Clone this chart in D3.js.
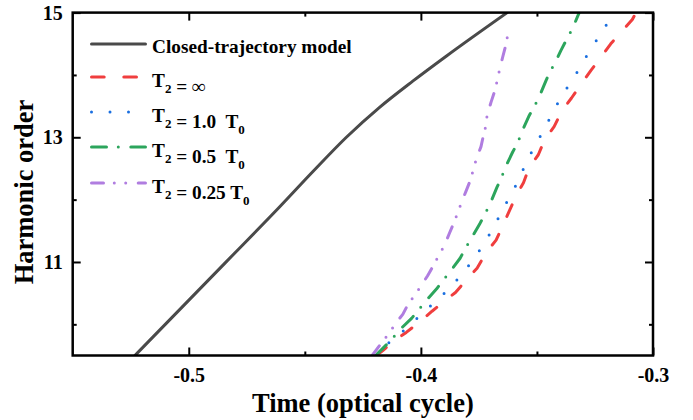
<!DOCTYPE html>
<html>
<head>
<meta charset="utf-8">
<script src="https://cdn.jsdelivr.net/npm/d3@7"></script>
<style>
  html, body { margin: 0; padding: 0; background: #fff; }
  svg { display: block; }
  text { font-family: "Liberation Serif", "Times New Roman", serif; font-weight: bold; fill: #000; }
</style>
</head>
<body>
<svg id="chart" width="693" height="420"></svg>
<script>
// ---- data (time in optical cycles, harmonic order) ----
const closedTime  = [-0.5232, -0.4842, -0.4608, -0.4465, -0.4321, -0.4178, -0.4035, -0.3891, -0.3628];
const closedOrder = [9.5, 10.99, 11.885, 12.45, 13.00, 13.48, 13.90, 14.30, 15];

const infTime  = [-0.4192, -0.4164, -0.4114, -0.4063, -0.3999, -0.3952, -0.3896, -0.3851, -0.3805, -0.3758, -0.3719, -0.3676, -0.3638, -0.3590, -0.3558, -0.3533, -0.3494, -0.3466, -0.3426, -0.3393, -0.3351, -0.3306, -0.3268, -0.3225, -0.3182, -0.3134, -0.3089, -0.3073];
const infOrder = [9.5, 9.58, 9.74, 9.87, 10.06, 10.21, 10.38, 10.51, 10.71, 10.90, 11.15, 11.35, 11.66, 12.06, 12.27, 12.52, 12.72, 12.97, 13.17, 13.42, 13.63, 13.87, 14.07, 14.28, 14.50, 14.70, 14.89, 15];

const t10Time  = [-0.4195, -0.4186, -0.4147, -0.4092, -0.4038, -0.3985, -0.3924, -0.3863, -0.3813, -0.3770, -0.3725, -0.3688, -0.3651, -0.3616, -0.3579, -0.3550, -0.3512, -0.3476, -0.3441, -0.3404, -0.3364, -0.3321, -0.3282, -0.3246, -0.3203, -0.3172];
const t10Order = [9.5, 9.54, 9.68, 9.84, 10.02, 10.21, 10.41, 10.63, 10.85, 11.06, 11.31, 11.55, 11.81, 12.06, 12.31, 12.57, 12.84, 13.08, 13.33, 13.59, 13.83, 14.08, 14.33, 14.54, 14.79, 15];

const t05Time  = [-0.4195, -0.4192, -0.4149, -0.4121, -0.4092, -0.4039, -0.4010, -0.3980, -0.3932, -0.3906, -0.3877, -0.3831, -0.3808, -0.3781, -0.3748, -0.3724, -0.3702, -0.3672, -0.3653, -0.3636, -0.3605, -0.3582, -0.3565, -0.3533, -0.3512, -0.3490, -0.3461, -0.3444, -0.3421, -0.3397, -0.3368, -0.3347, -0.3318];
const t05Order = [9.5, 9.51, 9.67, 9.78, 9.91, 10.10, 10.23, 10.37, 10.57, 10.70, 10.83, 11.06, 11.22, 11.39, 11.60, 11.77, 11.93, 12.20, 12.35, 12.52, 12.76, 12.92, 13.09, 13.35, 13.49, 13.65, 13.91, 14.05, 14.20, 14.39, 14.60, 14.74, 15];

const t025Time  = [-0.4210, -0.4178, -0.4138, -0.4106, -0.4078, -0.4057, -0.4026, -0.3999, -0.3971, -0.3942, -0.3920, -0.3899, -0.3877, -0.3859, -0.3841, -0.3826, -0.3805, -0.3787, -0.3774, -0.3762, -0.3741, -0.3731, -0.3719, -0.3715, -0.3698, -0.3682, -0.3671, -0.3662, -0.3648, -0.3636, -0.3626];
const t025Order = [9.5, 9.66, 9.85, 10.03, 10.16, 10.31, 10.47, 10.62, 10.78, 10.97, 11.13, 11.26, 11.46, 11.62, 11.79, 11.95, 12.14, 12.31, 12.48, 12.64, 12.85, 13.02, 13.20, 13.35, 13.56, 13.74, 13.91, 14.07, 14.28, 14.45, 14.64];

const xMajorTicks = [-0.5, -0.4, -0.3];
const xMinorTicks = [-0.45, -0.35];
const yMajorTicks = [11, 13, 15];
const yMinorTicks = [10, 12, 14];

const seriesNames = ["Closed-trajectory model", "T2 = ∞", "T2 = 1.0  T0", "T2 = 0.5  T0", "T2 = 0.25 T0"];

// ---- layout ----
const svg = d3.select("#chart");
const L = 72.7, R = 653, T = 12.6, B = 355.5;
const x = d3.scaleLinear().domain([-0.55, -0.3]).range([L, R]);
const y = d3.scaleLinear().domain([9.5, 15]).range([B, T]);

const series = [
  { t: closedTime, o: closedOrder, color: "#4a4a4a", dash: null, curve: d3.curveMonotoneX },
  { t: infTime,    o: infOrder,    color: "#f03e3e", dash: "12.7 19.6", curve: d3.curveLinear },
  { t: t10Time,    o: t10Order,    color: "#1a6fe0", dash: "0 18.5", curve: d3.curveLinear },
  { t: t05Time,    o: t05Order,    color: "#2ca55c", dash: "15 11.8 0 12.5", curve: d3.curveLinear },
  { t: t025Time,   o: t025Order,   color: "#b07de0", dash: "12 10.8 0 11.4 0 12.5", curve: d3.curveLinear }
];

svg.append("defs").append("clipPath").attr("id", "clip")
  .append("rect").attr("x", L).attr("y", T).attr("width", R - L).attr("height", B - T);

const plot = svg.append("g").attr("clip-path", "url(#clip)");
series.forEach(s => {
  const pts = s.t.map((v, i) => [v, s.o[i]]);
  const line = d3.line().x(d => x(d[0])).y(d => y(d[1])).curve(s.curve);
  plot.append("path").datum(pts)
    .attr("d", line)
    .attr("fill", "none")
    .attr("stroke", s.color)
    .attr("stroke-width", 3)
    .attr("stroke-linecap", "round")
    .attr("stroke-linejoin", "round")
    .attr("stroke-dasharray", s.dash);
});

// ---- axes ----
function styleAxis(g) {
  g.select(".domain").remove();
  g.selectAll(".tick line").attr("stroke", "#000").attr("stroke-width", 2);
}
const fontTick = 20;
const fmtX = d => d.toFixed(1);
// bottom
svg.append("g").attr("transform", `translate(0,${B})`)
  .call(d3.axisBottom(x).tickValues(xMajorTicks).tickSize(-8).tickPadding(12).tickFormat(fmtX))
  .call(styleAxis)
  .call(g => g.selectAll("text").attr("font-size", fontTick).style("font-family", "Liberation Serif").style("font-weight", "bold"));
svg.append("g").attr("transform", `translate(0,${B})`)
  .call(d3.axisBottom(x).tickValues(xMinorTicks).tickSize(-4).tickFormat(""))
  .call(styleAxis);
// top
svg.append("g").attr("transform", `translate(0,${T})`)
  .call(d3.axisTop(x).tickValues(xMajorTicks).tickSize(-8).tickFormat(""))
  .call(styleAxis);
svg.append("g").attr("transform", `translate(0,${T})`)
  .call(d3.axisTop(x).tickValues(xMinorTicks).tickSize(-4).tickFormat(""))
  .call(styleAxis);
// left
svg.append("g").attr("transform", `translate(${L},0)`)
  .call(d3.axisLeft(y).tickValues(yMajorTicks).tickSize(-8).tickPadding(10).tickFormat(d3.format("d")))
  .call(styleAxis)
  .call(g => g.selectAll("text").attr("font-size", fontTick).style("font-family", "Liberation Serif").style("font-weight", "bold"));
svg.append("g").attr("transform", `translate(${L},0)`)
  .call(d3.axisLeft(y).tickValues(yMinorTicks).tickSize(-4).tickFormat(""))
  .call(styleAxis);
// right
svg.append("g").attr("transform", `translate(${R},0)`)
  .call(d3.axisRight(y).tickValues(yMajorTicks).tickSize(-8).tickFormat(""))
  .call(styleAxis);
svg.append("g").attr("transform", `translate(${R},0)`)
  .call(d3.axisRight(y).tickValues(yMinorTicks).tickSize(-4).tickFormat(""))
  .call(styleAxis);

// frame
svg.append("rect").attr("x", L).attr("y", T).attr("width", R - L).attr("height", B - T)
  .attr("fill", "none").attr("stroke", "#000").attr("stroke-width", 2.5);

// axis titles
svg.append("text").attr("x", (L + R) / 2).attr("y", 412).attr("text-anchor", "middle")
  .attr("font-size", 26.5).text("Time (optical cycle)");
svg.append("text").attr("transform", `translate(33,192) rotate(-90)`).attr("text-anchor", "middle")
  .attr("font-size", 26.5).text("Harmonic order");

// ---- legend ----
const legY = [44, 77, 112, 147, 183];
const leg = svg.append("g");
series.forEach((s, i) => {
  leg.append("line").attr("x1", 91.5).attr("x2", 145.5).attr("y1", legY[i]).attr("y2", legY[i])
    .attr("stroke", s.color).attr("stroke-width", 3).attr("stroke-linecap", "round")
    .attr("stroke-dasharray", s.dash);
  const txt = leg.append("text").attr("x", 152).attr("y", legY[i] + (i === 0 ? 9 : 10)).attr("font-size", 19.3)
    .attr("xml:space", "preserve").style("white-space", "pre");
  const name = seriesNames[i];
  if (i === 0) {
    txt.text(name);
  } else {
    const parts = name.split(/(T[0-9])/).filter(p => p.length);
    parts.forEach(p => {
      const m = p.match(/^T([0-9])$/);
      if (m) {
        txt.append("tspan").text("T");
        txt.append("tspan").attr("font-size", 13).attr("dy", 6).text(m[1]);
        txt.append("tspan").attr("dy", -6).text("");
      } else {
        txt.append("tspan").text(p);
      }
    });
  }
});
</script>
</body>
</html>
